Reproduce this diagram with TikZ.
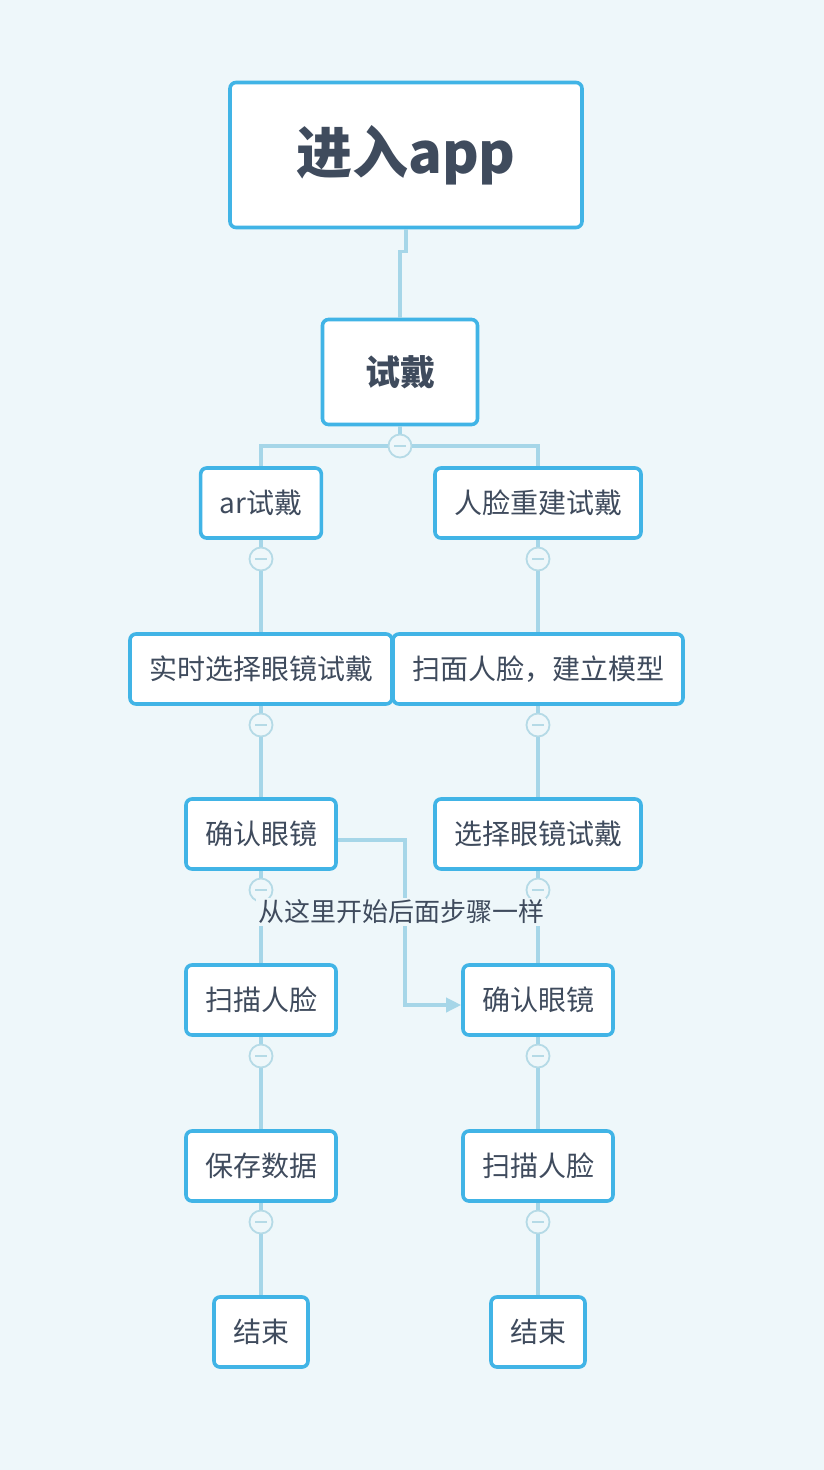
\documentclass[tikz,border=0pt]{standalone}
\usepackage{fontspec}
\setmainfont{Noto Sans CJK SC}
\usepackage{tikz}
\usetikzlibrary{arrows.meta}
\usetikzlibrary{positioning}
\definecolor{bgblue}{HTML}{EEF7FA}
\definecolor{boxblue}{HTML}{41B4E6}
\definecolor{linkblue}{HTML}{A6D6E8}
\definecolor{foldgray}{HTML}{B5DAE6}
\definecolor{inkgray}{HTML}{3F4B5D}

\begin{document}
\begin{tikzpicture}[x=1pt,y=-1pt]
				\fill[bgblue] (0,0) rectangle (824,1470);
				\useasboundingbox (0,0) rectangle (824,1470);
				\begin{scope}[every node/.style = {draw=boxblue, line width=3.6pt, rounded corners=6pt,
						fill=white, text=inkgray, minimum height=70pt, inner xsep=19pt,
						font=\fontsize{28}{32}\selectfont}]
					\node[minimum width=352pt, minimum height=145pt, font=\bfseries\fontsize{56}{62}\selectfont] (app) at (406,155) {进入app};
					\node[minimum width=155pt, minimum height=105pt, font=\bfseries\fontsize{35}{40}\selectfont] (sd) at (400,372) {试戴};
					\node (ar) at (261,503) {ar试戴};
					\node (rl) at (538,503) {人脸重建试戴};
					\node (ss) at (261,669) {实时选择眼镜试戴};
					\node (sm) at (538,669) {扫面人脸，建立模型};
					\node (qL) at (261,834) {确认眼镜};
					\node (xz) at (538,834) {选择眼镜试戴};
					\node (smL) at (261,1000) {扫描人脸};
					\node (qR) at (538,1000) {确认眼镜};
					\node (bc) at (261,1166) {保存数据};
					\node (smR) at (538,1166) {扫描人脸};
					\node (jL) at (261,1332) {结束};
					\node (jR) at (538,1332) {结束};
				\end{scope}
				\begin{scope}[every node/.style = {circle, draw=foldgray, line width=1.8pt, fill=bgblue,
						minimum size=23pt, inner sep=0pt,
						path picture={\draw[foldgray, line width=1.5pt]
							([xshift=-6pt]path picture bounding box.center) -- ([xshift=6pt]path picture bounding box.center);}}]
					\node (f0) at (400,446) {};
					\foreach \y/\n in {559/1,725/2,890/3,1056/4,1222/5} {
						\node (l\n) at (261,\y) {};
						\node (r\n) at (538,\y) {};
					}
				\end{scope}
				\begin{scope}[>={Triangle[length=15pt,width=14pt]},
						every edge/.style={draw=linkblue, line width=3.5pt}]
					\draw[linkblue, line width=3.5pt] (app.south) -- ++(0,22) -| (sd);
					\path [-] (sd) edge (f0);
					\draw[linkblue, line width=3.5pt] (f0) -| (ar);
					\draw[linkblue, line width=3.5pt] (f0) -| (rl);
					\foreach \a/\f/\b in {ar/l1/ss, ss/l2/qL, qL/l3/smL, smL/l4/bc, bc/l5/jL,
						rl/r1/sm, sm/r2/xz, xz/r3/qR, qR/r4/smR, smR/r5/jR}
						\path [-] (\a) edge (\f) (\f) edge (\b);
					\draw[->, linkblue, line width=3.5pt] ([yshift=-6pt]qL.east) -- ++(67,0) |- ([yshift=-5pt]qR.west);
				\end{scope}
				\node[fill=bgblue, text=inkgray, inner sep=2pt, font=\fontsize{26}{30}\selectfont] (note) at (401,912) {从这里开始后面步骤一样};
			\end{tikzpicture}
\end{document}
